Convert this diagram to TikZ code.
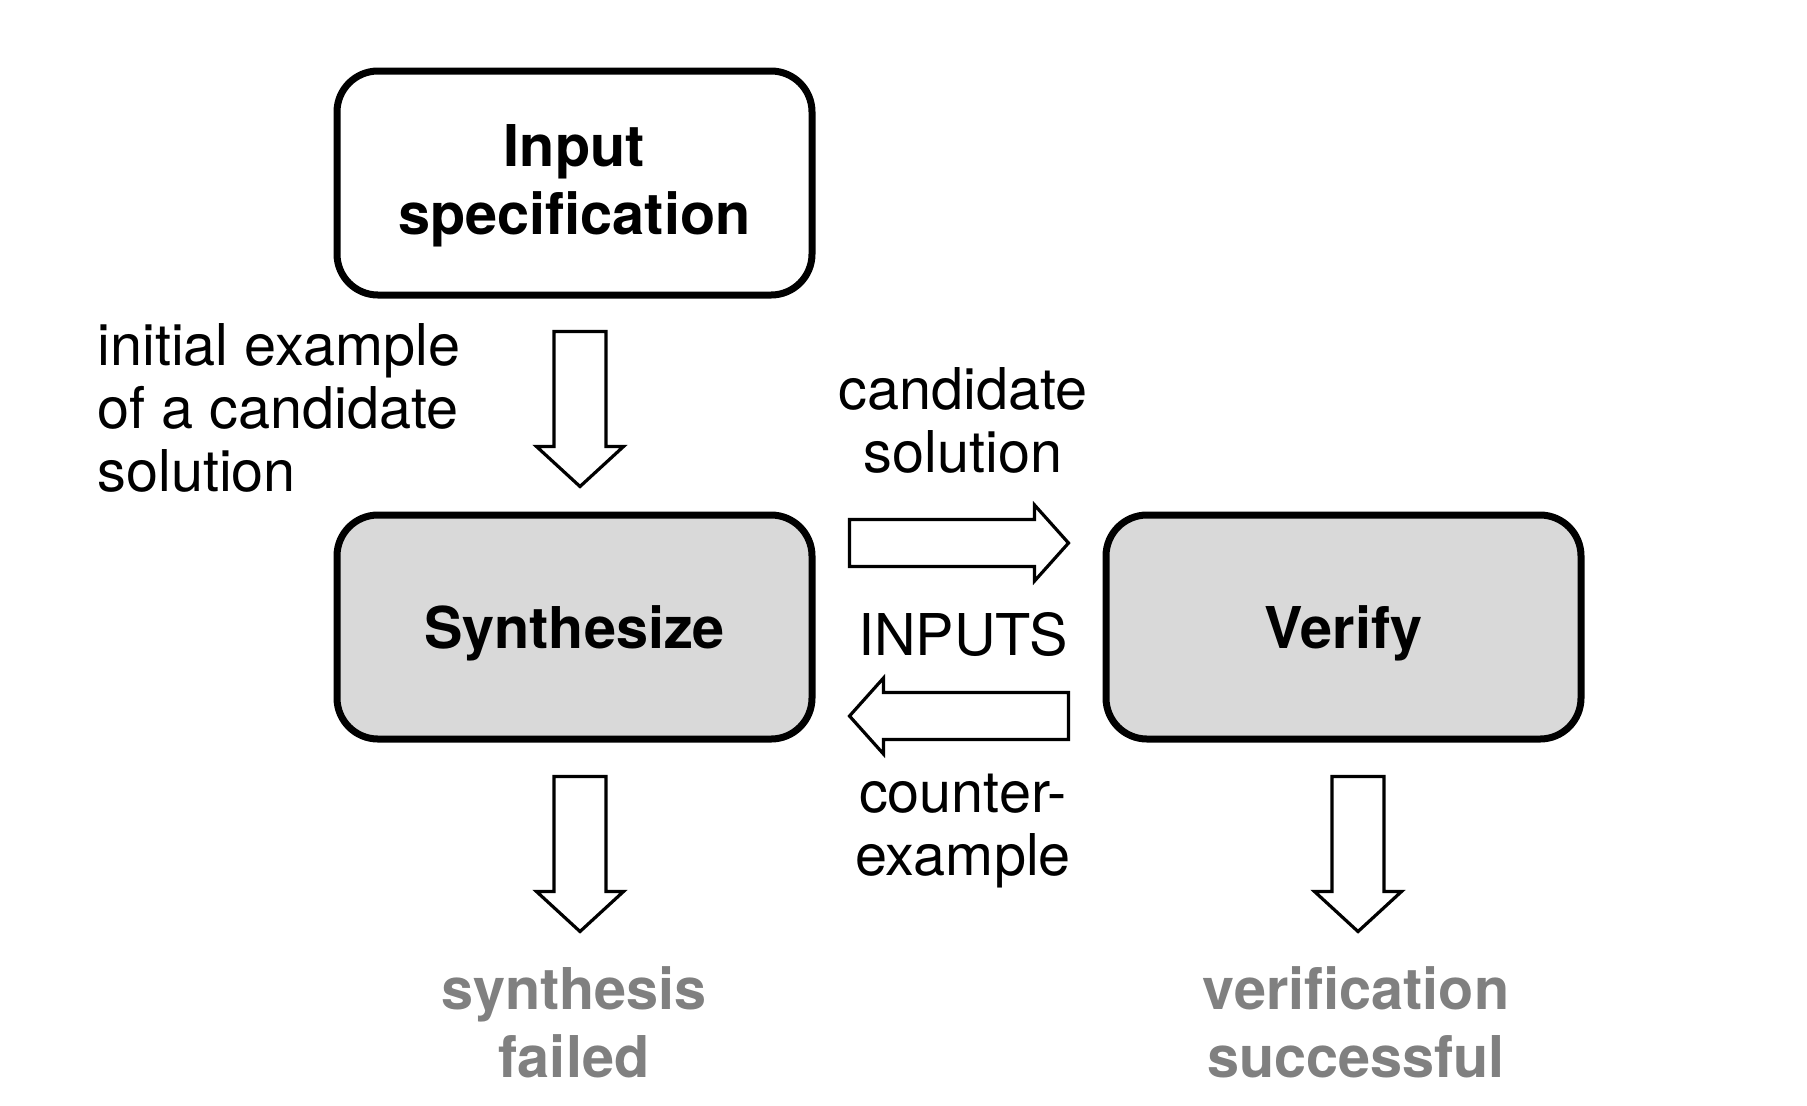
\documentclass[tikz,border=0pt]{standalone}
\usepackage{fontspec}
\setmainfont{TeX Gyre Heros}
\usetikzlibrary{calc}
\definecolor{boxgray}{HTML}{D9D9D9}
\definecolor{txtgray}{HTML}{808080}
\begin{document}
\begin{tikzpicture}[x=0.5pt,y=-0.5pt,
  box/.style={draw, line width=3.5pt, rounded corners=20.5pt, minimum width=237.5pt,
    minimum height=112pt, inner sep=0pt, align=center,
    font=\bfseries\fontsize{28.8pt}{34pt}\selectfont},
  plain/.style={inner sep=0pt, font=\fontsize{28.8pt}{31.5pt}\selectfont},
  result/.style={inner sep=0pt, align=center, text=txtgray,
    font=\bfseries\fontsize{28.8pt}{34pt}\selectfont},
  fat/.style n args={3}{draw, line width=1.6pt, line join=miter, fill=white,
    to path={($(\tikztotarget)!#3!(\tikztostart)$) coordinate (fatH)
      ($(\tikztostart)!#1!90:(\tikztotarget)$)
      -- ($(fatH)!#1!-90:(\tikztostart)$)
      -- ($(fatH)!#2!-90:(\tikztostart)$)
      -- (\tikztotarget)
      -- ($(fatH)!#2!90:(\tikztostart)$)
      -- ($(fatH)!#1!90:(\tikztostart)$)
      -- ($(\tikztostart)!#1!-90:(\tikztotarget)$)
      -- cycle}},
  vfat/.style={fat={13pt}{21.75pt}{20pt}},
  hfat/.style={fat={11.75pt}{19pt}{17pt}}
]
\useasboundingbox (0,0) rectangle (1807,1105);

\node[box, fill=white, text depth=3.9pt] (input) at (574.5,183) {Input\\specification};
\node[box, fill=boxgray, text depth=0pt] (synth) at (574.5,627) {Synthesize};
\node[box, fill=boxgray, text depth=0pt] (verify) at (1343.5,627) {Verify};

\coordinate (a1s) at (580,331.5);
\coordinate (a1e) at (580,486.5);
\coordinate (a2s) at (580,776.5);
\coordinate (a2e) at (580,931.5);
\coordinate (a3s) at (1358,776.5);
\coordinate (a3e) at (1358,931.5);
\coordinate (a4s) at (849.5,543);
\coordinate (a4e) at (1068.5,543);
\coordinate (a5s) at (1068.5,716);
\coordinate (a5e) at (849.5,716);

\draw[vfat] (a1s) to (a1e);
\draw[vfat] (a2s) to (a2e);
\draw[vfat] (a3s) to (a3e);
\draw[hfat] (a4s) to (a4e);
\draw[hfat] (a5s) to (a5e);

\node[plain, align=left, anchor=base west] (init) at (97,491) {initial example\\of a candidate\\solution};
\node[plain, align=center] (cand) at (963,420) {candidate\\solution};
\node[plain] (inputs) at (963,634.5) {INPUTS};
\node[plain, align=center] (counter) at (963,831) {counter-\\example};
\node[result] (fail) at (574,1022) {synthesis\\failed};
\node[result] (succ) at (1356,1022) {verification\\successful};
\end{tikzpicture}
\end{document}
